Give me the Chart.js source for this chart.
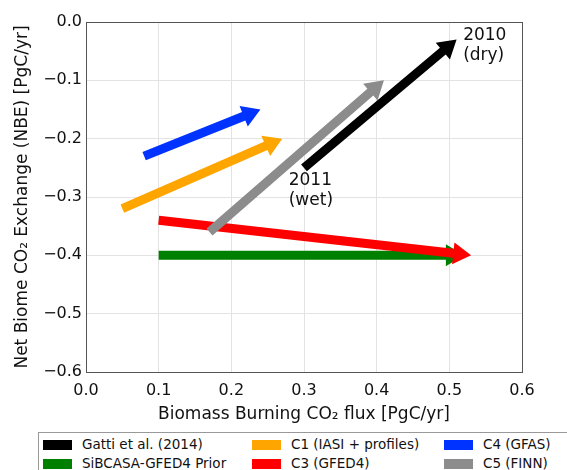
<!DOCTYPE html>
<html>
<head>
<meta charset="utf-8">
<script src="https://cdn.jsdelivr.net/npm/chart.js@4.4.1/dist/chart.umd.min.js"></script>
<style>
  body { margin: 0; background: #fff; font-family: "DejaVu Sans", sans-serif; }
  #wrap { position: relative; width: 567px; height: 470px; overflow: hidden; }
  #legend {
    position: absolute; left: 38px; top: 432px; width: 545px; height: 44px;
    border: 1px solid #999; background: #fff; font-size: 13.5px; color: #111;
  }
  .item { position: absolute; height: 16px; line-height: 16px; white-space: nowrap; }
  .sw { display: inline-block; width: 29px; height: 10px; vertical-align: -1px; margin-right: 10px; }
</style>
</head>
<body>
<div id="wrap">
  <canvas id="chart" width="567" height="470"></canvas>
  <div id="legend"></div>
</div>
<script>
/* DATA */
const seriesNames = ["Gatti et al. (2014)", "SiBCASA-GFED4 Prior", "C1 (IASI + profiles)", "C3 (GFED4)", "C4 (GFAS)", "C5 (FINN)"];
const xStart = [0.30, 0.10, 0.05, 0.10, 0.08, 0.17];
const yStart = [-0.25, -0.40, -0.32, -0.34, -0.23, -0.36];
const xEnd = [0.51, 0.52, 0.27, 0.53, 0.24, 0.41];
const yEnd = [-0.03, -0.40, -0.20, -0.40, -0.15, -0.10];
const xTicks = [0.0, 0.1, 0.2, 0.3, 0.4, 0.5, 0.6];
const yTicks = [0.0, -0.1, -0.2, -0.3, -0.4, -0.5, -0.6];
const notes = [
    { x: 0.519, y: -0.024, lines: ["2010", "(dry)"] },
    { x: 0.279, y: -0.272, lines: ["2011", "(wet)"] }
];

/* STYLE */
const colors = ["#000000", "#008000", "#ffa500", "#ff0000", "#0033ff", "#8c8c8c"];
const drawOrder = [1, 3, 5, 2, 4, 0];
const fmt = v => (v < -1e-9 ? "\u2212" : "") + Math.abs(v).toFixed(1);

/* ARROWS PLUGIN */
const arrows = {
    id: "arrows",
    afterDatasetsDraw(chart) {
        const ctx = chart.ctx;
        const shaft = 9, headW = 22, headL = 18;
        drawOrder.forEach(i => {
            const pts = chart.getDatasetMeta(i).data;
            const x0 = pts[0].x, y0 = pts[0].y, x1 = pts[1].x, y1 = pts[1].y;
            const a = Math.atan2(y1 - y0, x1 - x0);
            const len = Math.hypot(x1 - x0, y1 - y0);
            ctx.save();
            ctx.translate(x0, y0);
            ctx.rotate(a);
            ctx.beginPath();
            ctx.moveTo(0, -shaft / 2);
            ctx.lineTo(len - headL, -shaft / 2);
            ctx.lineTo(len - headL, -headW / 2);
            ctx.lineTo(len, 0);
            ctx.lineTo(len - headL, headW / 2);
            ctx.lineTo(len - headL, shaft / 2);
            ctx.lineTo(0, shaft / 2);
            ctx.closePath();
            ctx.fillStyle = colors[i];
            ctx.fill();
            ctx.restore();
        });
        // annotations
        const xs = chart.scales.x, ys = chart.scales.y;
        ctx.save();
        ctx.fillStyle = "#111";
        ctx.font = "17px 'DejaVu Sans'";
        ctx.textBaseline = "middle";
        notes.forEach(n => {
            const px = xs.getPixelForValue(n.x), py = ys.getPixelForValue(n.y);
            n.lines.forEach((t, k) => ctx.fillText(t, px, py + k * 20));
        });
        // frame
        const ca = chart.chartArea;
        ctx.strokeStyle = "#555";
        ctx.lineWidth = 1;
        ctx.strokeRect(Math.round(ca.left) + 0.5, Math.round(ca.top) + 0.5, Math.round(ca.right - ca.left), Math.round(ca.bottom - ca.top));
        ctx.restore();
    }
};

const datasets = seriesNames.map((name, i) => ({
    label: name,
    data: [{ x: xStart[i], y: yStart[i] }, { x: xEnd[i], y: yEnd[i] }],
    showLine: false,
    pointRadius: 0,
    borderColor: colors[i],
    backgroundColor: colors[i]
}));

new Chart(document.getElementById("chart"), {
    type: "scatter",
    data: { datasets },
    plugins: [arrows],
    options: {
        responsive: false,
        animation: false,
        layout: { padding: { left: 0, top: 22, right: 45, bottom: 45 } },
        plugins: { legend: { display: false }, tooltip: { enabled: false } },
        scales: {
            x: {
                type: "linear",
                min: xTicks[0],
                max: xTicks[xTicks.length - 1],
                afterFit: s => { s.height = 53; },
                afterBuildTicks: s => { s.ticks = xTicks.map(v => ({ value: v })); },
                ticks: { callback: fmt, color: "#111", font: { family: "DejaVu Sans", size: 16 }, padding: 9, maxRotation: 0 },
                grid: { color: "#e3e3e3", tickLength: 0 },
                border: { display: false },
                title: { display: true, text: "Biomass Burning CO\u2082 flux [PgC/yr]", color: "#111", font: { family: "DejaVu Sans", size: 17 }, padding: { top: 0, bottom: 0 } }
            },
            y: {
                type: "linear",
                min: yTicks[yTicks.length - 1],
                max: yTicks[0],
                afterFit: s => { s.width = 86; },
                afterBuildTicks: s => { s.ticks = yTicks.map(v => ({ value: v })); },
                ticks: { callback: fmt, color: "#111", font: { family: "DejaVu Sans", size: 16 }, padding: 4 },
                grid: { color: "#e3e3e3", tickLength: 0 },
                border: { display: false },
                title: { display: true, text: "Net Biome CO\u2082 Exchange (NBE) [PgC/yr]", color: "#111", font: { family: "DejaVu Sans", size: 17 }, padding: { top: 12, bottom: 0 } }
            }
        }
    }
});

/* LEGEND (matplotlib fills columns first) */
const legend = document.getElementById("legend");
const colX = [4, 213, 405];
seriesNames.forEach((name, i) => {
    const col = Math.floor(i / 2), row = i % 2;
    const el = document.createElement("div");
    el.className = "item";
    el.style.left = colX[col] + "px";
    el.style.top = (3 + row * 19) + "px";
    el.innerHTML = '<span class="sw" style="background:' + colors[i] + '"></span>' + name;
    legend.appendChild(el);
});
</script>
</body>
</html>
